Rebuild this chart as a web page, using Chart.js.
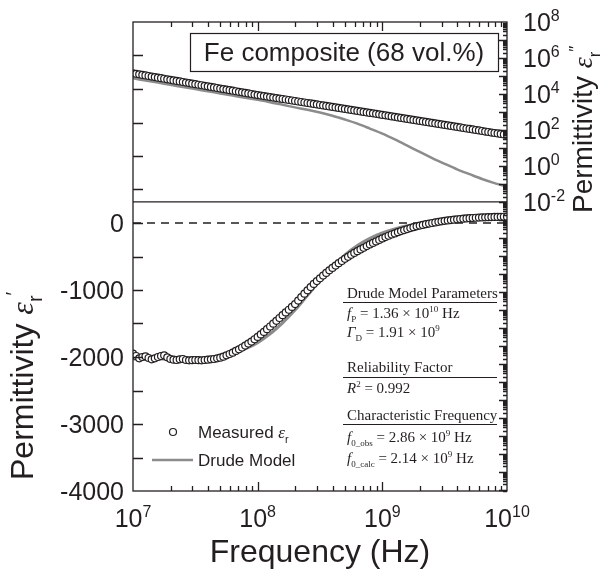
<!DOCTYPE html>
<html>
<head>
<meta charset="utf-8">
<script src="https://cdn.jsdelivr.net/npm/chart.js@4.4.0/dist/chart.umd.min.js"></script>
<style>
  html, body { margin: 0; padding: 0; background: #fff; }
</style>
</head>
<body>
<canvas id="permChart" width="606" height="582"></canvas>
<script>
// measured sweep, log10(f / Hz)
const measExp = [
  7.000, 7.025, 7.050, 7.075, 7.100, 7.125, 7.150, 7.175, 7.200, 7.225,
  7.250, 7.275, 7.300, 7.325, 7.350, 7.375, 7.400, 7.425, 7.450, 7.475,
  7.500, 7.525, 7.550, 7.575, 7.600, 7.625, 7.650, 7.675, 7.700, 7.725,
  7.750, 7.775, 7.800, 7.825, 7.850, 7.875, 7.900, 7.925, 7.950, 7.975,
  8.000, 8.025, 8.050, 8.075, 8.100, 8.125, 8.150, 8.175, 8.200, 8.225,
  8.250, 8.275, 8.300, 8.325, 8.350, 8.375, 8.400, 8.425, 8.450, 8.475,
  8.500, 8.525, 8.550, 8.575, 8.600, 8.625, 8.650, 8.675, 8.700, 8.725,
  8.750, 8.775, 8.800, 8.825, 8.850, 8.875, 8.900, 8.925, 8.950, 8.975,
  9.000, 9.025, 9.050, 9.075, 9.100, 9.125, 9.150, 9.175, 9.200, 9.225,
  9.250, 9.275, 9.300, 9.325, 9.350, 9.375, 9.400, 9.425, 9.450, 9.475,
  9.500, 9.525, 9.550, 9.575, 9.600, 9.625, 9.650, 9.675, 9.700, 9.725,
  9.750, 9.775, 9.800, 9.825, 9.850, 9.875, 9.900, 9.925, 9.950, 9.975,
  10.000
];
const epsRealMeas = [
  -1950, -1985, -2020, -2000, -1990, -2015, -2035, -2020, -2000, -1985,
  -1975, -2005, -2030, -2040, -2045, -2035, -2030, -2045, -2050, -2048,
  -2045, -2048, -2050, -2045, -2040, -2035, -2030, -2020, -2010, -1995,
  -1975, -1955, -1935, -1910, -1885, -1858, -1830, -1800, -1770, -1735,
  -1700, -1663, -1625, -1585, -1545, -1503, -1460, -1418, -1375, -1335,
  -1295, -1252, -1210, -1158, -1105, -1055, -1005, -957, -910, -867,
  -825, -785, -745, -707, -670, -635, -600, -567, -535, -505,
  -475, -447, -420, -395, -370, -345, -320, -297, -275, -252,
  -230, -210, -190, -172, -155, -137, -120, -105, -90, -76,
  -62, -50, -38, -28, -18, -9, 0, 9, 18, 25,
  32, 38, 44, 50, 55, 60, 64, 68, 72, 75,
  78, 81, 83, 85, 87, 89, 90, 91, 92, 93,
  94
];
const epsImagMeas = [
  1.41e5, 1.32e5, 1.23e5, 1.15e5, 1.07e5, 1.0e5, 9.3e4, 8.67e4, 8.09e4, 7.54e4,
  7.03e4, 6.56e4, 6.12e4, 5.70e4, 5.32e4, 4.96e4, 4.63e4, 4.32e4, 4.03e4, 3.76e4,
  3.51e4, 3.27e4, 3.05e4, 2.84e4, 2.65e4, 2.47e4, 2.31e4, 2.15e4, 2.01e4, 1.87e4,
  1.75e4, 1.63e4, 1.52e4, 1.42e4, 1.32e4, 1.23e4, 1.15e4, 1.07e4, 1.0e4, 9330,
  8710, 8180, 7670, 7200, 6760, 6350, 5960, 5590, 5250, 4930,
  4620, 4340, 4070, 3820, 3590, 3370, 3160, 2970, 2790, 2620,
  2450, 2300, 2160, 2030, 1910, 1790, 1680, 1580, 1480, 1390,
  1300, 1220, 1150, 1080, 1010, 950, 890, 840, 785, 740,
  690, 650, 610, 570, 535, 500, 470, 440, 413, 387,
  363, 340, 319, 299, 281, 263, 247, 231, 217, 203,
  191, 179, 167, 157, 147, 138, 129, 121, 114, 107,
  100, 94, 88, 82, 77, 72, 68, 64, 60, 56,
  52
];

// Drude model curve, log10(f / Hz)
const modelExp = [
  7.0, 7.1, 7.2, 7.3, 7.4, 7.5, 7.6, 7.7, 7.8, 7.9,
  8.0, 8.1, 8.2, 8.3, 8.4, 8.5, 8.6, 8.7, 8.8, 8.9,
  9.0, 9.1, 9.2, 9.3, 9.4, 9.5, 9.6, 9.7, 9.8, 9.9, 10.0
];
const epsRealModel = [
  -2030, -2030, -2030, -2030, -2028, -2025, -2015, -1990, -1950, -1880,
  -1785, -1655, -1490, -1300, -1080, -860, -650, -475, -335, -228,
  -148, -88, -42, -8, 18, 38, 54, 66, 75, 81, 85
];
const epsImagModel = [
  74000, 56000, 43000, 32000, 24500, 18600, 14100, 10700, 8100, 6200,
  4700, 3500, 2500, 1800, 1320, 930, 620, 380, 224, 120,
  63, 30, 13.5, 6.0, 2.75, 1.32, 0.65, 0.35, 0.19, 0.112, 0.071
];

const freqTickExp = [7, 8, 9, 10];
const realTicks = [0, -1000, -2000, -3000, -4000];
const imagTickExp = [8, 6, 4, 2, 0, -2];

const INK = '#231f20';
const GRAY = '#8c8c8c';
const SANS = '"Liberation Sans", Arial, sans-serif';
const SERIF = '"Liberation Serif", "Times New Roman", serif';

function pts(exps, vals) {
    return exps.map((e, i) => ({ x: Math.pow(10, e), y: vals[i] }));
}

// draws a run of text pieces (italic / sub / sup), returns width
function rich(ctx, parts, x, y, size, fam, draw) {
    let cx = x;
    for (const p of parts) {
        const s = p.pos ? Math.round(size * 0.62) : size;
        ctx.font = (p.i ? 'italic ' : '') + s + 'px ' + (p.fam || fam);
        const dy = p.pos === 1 ? -size * 0.4 : p.pos === -1 ? size * 0.28 : 0;
        if (draw !== false) ctx.fillText(p.t, cx, y + dy);
        cx += ctx.measureText(p.t).width;
    }
    return cx - x;
}

function powLabel(e) {
    return [{ t: '10' }, { t: String(e), pos: 1 }];
}

const frame = {
    id: 'frame',
    afterDraw(chart) {
        const { ctx, chartArea: a, scales } = chart;
        const x = scales.x, yL = scales.yReal, yR = scales.yImag;
        ctx.save();
        ctx.strokeStyle = INK;
        ctx.fillStyle = INK;
        ctx.lineWidth = 1.3;
        ctx.strokeRect(a.left, a.top, a.right - a.left, a.bottom - a.top);

        // inward ticks
        ctx.beginPath();
        for (let d = 7; d < 10; d++) {
            for (let m = 1; m < 10; m++) {
                if (d === 7 && m === 1) continue;
                const px = Math.round(x.getPixelForValue(m * Math.pow(10, d))) + 0.5;
                const len = m === 1 ? 9 : 5;
                ctx.moveTo(px, a.bottom); ctx.lineTo(px, a.bottom - len);
                ctx.moveTo(px, a.top); ctx.lineTo(px, a.top + len);
            }
        }
        for (let v = -3500; v < 3000; v += 500) {
            const py = Math.round(yL.getPixelForValue(v)) + 0.5;
            ctx.moveTo(a.left, py); ctx.lineTo(a.left + 10, py);
        }
        for (let d = -19; d < 8; d++) {
            for (let m = 1; m < 10; m++) {
                const v = m * Math.pow(10, d);
                if (v < yR.min || v > yR.max) continue;
                const py = Math.round(yR.getPixelForValue(v)) + 0.5;
                const len = m === 1 ? 8 : 4;
                ctx.moveTo(a.right, py); ctx.lineTo(a.right - len, py);
            }
        }
        ctx.stroke();

        ctx.textBaseline = 'alphabetic';
        // left tick labels
        ctx.textAlign = 'right';
        ctx.font = '25px ' + SANS;
        realTicks.forEach(v => ctx.fillText(String(v), a.left - 9, yL.getPixelForValue(v) + 9));

        ctx.textAlign = 'left';
        // bottom tick labels
        freqTickExp.forEach(e => {
            const parts = powLabel(e);
            const w = rich(ctx, parts, 0, 0, 25, SANS, false);
            rich(ctx, parts, x.getPixelForValue(Math.pow(10, e)) - w / 2, 527, 25, SANS);
        });
        // right tick labels
        imagTickExp.forEach(e => {
            rich(ctx, powLabel(e), a.right + 16, yR.getPixelForValue(Math.pow(10, e)) + 9, 25, SANS);
        });

        // x title
        ctx.font = '32px ' + SANS;
        ctx.textAlign = 'center';
        ctx.fillText('Frequency (Hz)', (a.left + a.right) / 2, 562);
        ctx.textAlign = 'left';

        // left title
        ctx.save();
        ctx.translate(33, 480);
        ctx.rotate(-Math.PI / 2);
        rich(ctx, [{ t: 'Permittivity ' }, { t: 'ε', i: 1, fam: SERIF }, { t: 'r', pos: -1 }, { t: '′', pos: 1 }], 0, 0, 32, SANS);
        ctx.restore();

        // right title
        ctx.save();
        ctx.translate(592, 213);
        ctx.rotate(-Math.PI / 2);
        rich(ctx, [{ t: 'Permittivity ' }, { t: 'ε', i: 1, fam: SERIF }, { t: 'r', pos: -1 }, { t: '″', pos: 1 }], 0, 0, 28, SANS);
        ctx.restore();

        // sample box
        ctx.lineWidth = 1.2;
        ctx.strokeRect(190.5, 33.5, 308, 38);
        ctx.font = '26px ' + SANS;
        ctx.textAlign = 'center';
        ctx.fillText('Fe composite (68 vol.%)', 344, 61);
        ctx.textAlign = 'left';

        // parameter table
        const tx = 347;
        const rule = y => { ctx.beginPath(); ctx.moveTo(343, y + 0.5); ctx.lineTo(497, y + 0.5); ctx.lineWidth = 1; ctx.stroke(); };
        const row = (parts, mid) => rich(ctx, parts, tx, mid + 5, 15, SERIF);
        row([{ t: 'Drude Model Parameters' }], 293);
        rule(302);
        row([{ t: 'f', i: 1 }, { t: 'P', pos: -1 }, { t: ' = 1.36 × 10' }, { t: '10', pos: 1 }, { t: ' Hz' }], 313);
        row([{ t: 'Γ', i: 1 }, { t: 'D', pos: -1 }, { t: ' = 1.91 × 10' }, { t: '9', pos: 1 }], 332);
        row([{ t: 'Reliability Factor' }], 367);
        rule(377);
        row([{ t: 'R', i: 1 }, { t: '2', pos: 1 }, { t: ' = 0.992' }], 388);
        row([{ t: 'Characteristic Frequency' }], 415);
        rule(424);
        row([{ t: 'f', i: 1 }, { t: '0_obs', pos: -1 }, { t: ' = 2.86 × 10' }, { t: '9', pos: 1 }, { t: ' Hz' }], 437);
        row([{ t: 'f', i: 1 }, { t: '0_calc', pos: -1 }, { t: ' = 2.14 × 10' }, { t: '9', pos: 1 }, { t: ' Hz' }], 458);

        // legend
        ctx.beginPath();
        ctx.arc(173, 432, 3.5, 0, Math.PI * 2);
        ctx.fillStyle = '#fff';
        ctx.fill();
        ctx.lineWidth = 1.2;
        ctx.stroke();
        ctx.fillStyle = INK;
        rich(ctx, [{ t: 'Measured ' }, { t: 'ε', i: 1, fam: SERIF }, { t: 'r', pos: -1 }], 198, 438, 17, SANS);
        ctx.beginPath();
        ctx.moveTo(152, 460); ctx.lineTo(193, 460);
        ctx.strokeStyle = GRAY;
        ctx.lineWidth = 2.5;
        ctx.stroke();
        ctx.font = '17px ' + SANS;
        ctx.fillText('Drude Model', 198, 466);
        ctx.restore();
    }
};

const marker = {
    showLine: false,
    pointStyle: 'circle',
    pointRadius: 3.5,
    borderWidth: 1.2,
    borderColor: INK,
    backgroundColor: '#ffffff',
    order: 0
};
const model = {
    showLine: true,
    pointRadius: 0,
    borderColor: GRAY,
    borderWidth: 3,
    tension: 0.3,
    order: 1
};

new Chart(document.getElementById('permChart'), {
    type: 'scatter',
    data: {
        datasets: [
            { label: 'Measured εr″', data: pts(measExp, epsImagMeas), yAxisID: 'yImag', ...marker },
            { label: 'Measured εr′', data: pts(measExp, epsRealMeas), yAxisID: 'yReal', ...marker },
            { label: 'Drude εr″', data: pts(modelExp, epsImagModel), yAxisID: 'yImag', ...model, borderWidth: 2.5 },
            { label: 'Drude εr′', data: pts(modelExp, epsRealModel), yAxisID: 'yReal', ...model },
            {
                label: 'zero', data: [{ x: 1e7, y: 0 }, { x: 1e10, y: 0 }], yAxisID: 'yReal',
                showLine: true, pointRadius: 0, borderColor: INK, borderWidth: 1.4, borderDash: [8, 6], order: 2
            },
            {
                label: 'divider', data: [{ x: 1e7, y: 0.01 }, { x: 1e10, y: 0.01 }], yAxisID: 'yImag',
                showLine: true, pointRadius: 0, borderColor: INK, borderWidth: 1.3, order: 2
            }
        ]
    },
    options: {
        responsive: false,
        devicePixelRatio: 1,
        animation: false,
        layout: { padding: { left: 133, right: 99, top: 22, bottom: 91 } },
        plugins: {
            legend: { display: false },
            tooltip: { enabled: false }
        },
        scales: {
            x: { type: 'logarithmic', min: 1e7, max: 1e10, display: false },
            yReal: { type: 'linear', position: 'left', min: -4000, max: 3000, display: false },
            yImag: { type: 'logarithmic', position: 'right', min: 8.7e-19, max: 1e8, display: false }
        }
    },
    plugins: [frame]
});
</script>
</body>
</html>
